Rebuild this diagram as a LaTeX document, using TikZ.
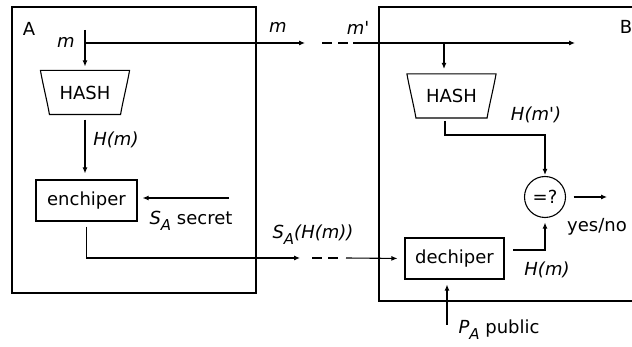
\documentclass[tikz,border=0pt]{standalone}
\usepackage{fontspec}
\setmainfont{DejaVu Sans}
\usetikzlibrary{arrows.meta,calc}
\begin{document}
\begin{tikzpicture}[x=1pt,y=-1pt,line width=1.1pt,
  >={Latex[length=6pt,width=5pt]},
  font=\fontsize{18}{20}\selectfont,
  lbl/.style={inner sep=0pt},
  ilbl/.style={inner sep=0pt,font=\fontsize{18}{20}\selectfont\itshape},
  hashbox/.style={inner sep=0pt,minimum width=88pt,minimum height=43pt},
  procbox/.style={draw,inner sep=0pt,minimum height=41pt},
  dashline/.style={dash pattern=on 10pt off 6pt}]
\useasboundingbox (0,0) rectangle (632,347);
% containers
\draw (12,7) rectangle (256,293);
\draw (632,7) -- (379,7) -- (379,301) -- (632,301);
\node[lbl] (lA) at (29,29) {A};
\node[lbl] (lB) at (626,27) {B};
% hash boxes
\node[hashbox] (hashA) at (85,92.5) {HASH};
\node[hashbox] (hashB) at (451.5,96) {HASH};
\foreach \h in {hashA,hashB}{
  \draw (\h.north west) -- (\h.north east)
    .. controls ($(\h.north east)+(-2,12)$) and ($(\h.south east)+(-7,-12)$) .. ($(\h.south east)+(-9,0)$)
    -- ($(\h.south west)+(9,0)$)
    .. controls ($(\h.south west)+(7,-12)$) and ($(\h.north west)+(2,12)$) .. (\h.north west) -- cycle;
}
% process boxes
\node[procbox,minimum width=101pt] (enc) at (86.5,200.5) {enchiper};
\node[procbox,minimum width=99pt] (dec) at (454.5,258.5) {dechiper};
\node[draw,circle,inner sep=0pt,minimum size=41pt] (cmp) at (545,197) {=?};
% coordinates
\coordinate (mstart) at (85,30);
\coordinate (msplit) at (85,43);
\coordinate (mAend) at (305,43);
\coordinate (mD1) at (322,43);
\coordinate (mD2) at (348,43);
\coordinate (mBstart) at (353,43);
\coordinate (mBsplit) at (444,43);
\coordinate (mBend) at (575,43);
\coordinate (secS) at (229,198);
\coordinate (sigA) at (300,258);
\coordinate (sigD1) at (312,258);
\coordinate (sigD2) at (338,258);
\coordinate (sigB) at (346,258);
\coordinate (pub) at (447,325);
\coordinate (decout) at (513,250);
\coordinate (hbout) at (445,121);
\coordinate (hbturn) at (445,135);
\coordinate (ynend) at (607,197);
% connectors
\draw[->,shorten >=4pt] (mstart) -- (hashA.north);
\draw[->] (msplit) -- (mAend);
\draw[dashline] (mD1) -- (mD2);
\draw[->] (mBstart) -- (mBend);
\draw[->,shorten >=5pt] (mBsplit) -- (mBsplit |- hashB.north);
\draw[->,shorten <=5pt,shorten >=6pt] (hashA.south) -- (enc.north -| hashA.south);
\draw[->,shorten >=5pt] (secS) -- (secS -| enc.east);
\draw[->,shorten <=5pt] (enc.south) |- (sigA);
\draw[dashline] (sigD1) -- (sigD2);
\draw[->,shorten >=7pt] (sigB) -- (dec.west);
\draw[->,shorten >=5pt] (pub) -- (pub |- dec.south);
\draw[->,shorten >=4.5pt] (decout) -| (cmp.south);
\draw[->,shorten >=1pt] (hbout) -- (hbturn) -| (cmp.north);
\draw[->,shorten <=7.5pt] (cmp.east) -- (ynend);
% labels
\node[ilbl] (lm1) at (66,42) {m};
\node[ilbl] (lm2) at (278,27) {m};
\node[ilbl] (lm3) at (358,28) {m\textquotesingle};
\node[ilbl] (lHm) at (116,140) {H(m)};
\node[ilbl] (lHmp) at (536,115) {H(m\textquotesingle)};
\node[lbl,anchor=west] (lsec) at (149,221) {{\itshape S\raisebox{-6pt}{\fontsize{15}{15}\selectfont A}} secret};
\node[ilbl,anchor=west] (lsig) at (272,235) {S\raisebox{-6pt}{\fontsize{15}{15}\selectfont A}(H(m))};
\node[ilbl] (lHm2) at (547,270) {H(m)};
\node[lbl,anchor=west] (lpub) at (458,330) {{\itshape P\raisebox{-6pt}{\fontsize{15}{15}\selectfont A}} public};
\node[lbl] (lyn) at (597,227) {yes/no};
\end{tikzpicture}
\end{document}
